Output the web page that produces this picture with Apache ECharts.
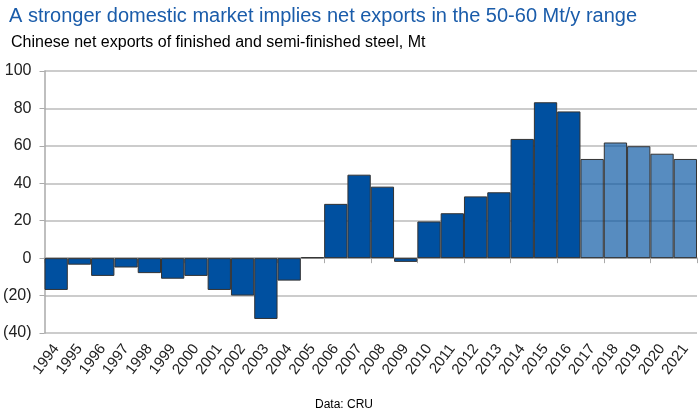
<!DOCTYPE html>
<html lang="en">
<head>
  <meta charset="UTF-8">
  <title>Chinese net exports of steel</title>
  <style>
    html, body { margin: 0; padding: 0; background: #fff; }
  </style>
</head>
<body>
<div id="main" style="width: 698px;height: 410px"></div>
<script type="text/javascript" src="https://cdn.jsdelivr.net/npm/echarts@6/dist/echarts.min.js"></script>
<script>
// years on the x axis
var years = ['1994', '1995', '1996', '1997', '1998', '1999', '2000', '2001', '2002', '2003',
  '2004', '2005', '2006', '2007', '2008', '2009', '2010', '2011', '2012', '2013',
  '2014', '2015', '2016', '2017', '2018', '2019', '2020', '2021'];
// net exports, Mt
var netExports = [-17, -3.5, -9.5, -5, -8, -11, -9.5, -17, -20, -32.5,
  -12, 0.5, 29, 44.6, 38.2, -2, 19.6, 24, 33, 35.2,
  63.7, 83.3, 78.4, 53, 61.8, 59.8, 55.8, 53];
// first forecast year
var firstForecast = '2017';
var yTicks = [-40, -20, 0, 20, 40, 60, 80, 100];

var fcIdx = years.indexOf(firstForecast);
var barData = netExports.map(function (v, i) {
  return {
    value: v,
    itemStyle: { color: i >= fcIdx ? 'rgba(0,80,160,0.66)' : '#0050a0' }
  };
});

var option = {
  animation: false,
  textStyle: { fontFamily: 'Liberation Sans, Arial, sans-serif' },
  title: [{
    text: 'A stronger domestic market implies net exports in the 50-60 Mt/y range',
    left: 4, top: 1,
    textStyle: { color: '#1a5caa', fontSize: 20, fontWeight: 'normal' }
  }, {
    text: 'Chinese net exports of finished and semi-finished steel, Mt',
    left: 6, top: 30,
    textStyle: { color: '#000', fontSize: 16, fontWeight: 'normal' }
  }, {
    text: 'Data: CRU',
    left: 310, top: 394,
    textStyle: { color: '#000', fontSize: 12, fontWeight: 'normal' }
  }],
  grid: { left: 44.5, right: 1, top: 71, bottom: 77 },
  xAxis: [{
    type: 'category',
    data: years,
    axisLine: { show: false, onZero: false },
    axisTick: { show: false },
    axisLabel: { rotate: 53, fontSize: 15, color: '#222', margin: 13, interval: 0 }
  }, {
    type: 'category',
    data: years,
    position: 'bottom',
    axisLine: { show: true, onZero: true, lineStyle: { color: '#aaa', width: 1.5 } },
    axisTick: { show: true, length: 5, lineStyle: { color: '#aaa' } },
    axisLabel: { show: false }
  }],
  yAxis: {
    type: 'value',
    min: yTicks[0],
    max: yTicks[yTicks.length - 1],
    interval: 20,
    axisLine: { show: true, lineStyle: { color: '#aaa', width: 1.5 } },
    axisTick: { show: true, length: 5, lineStyle: { color: '#aaa' } },
    splitLine: { lineStyle: { color: '#bbb', width: 1.5 } },
    axisLabel: {
      fontSize: 16, color: '#222', margin: 13,
      formatter: function (v) { return v < 0 ? '(' + (-v) + ')' : String(v); }
    }
  },
  series: [{
    type: 'bar',
    xAxisIndex: 0,
    data: barData,
    barCategoryGap: '0%',
    itemStyle: { borderColor: '#333', borderWidth: 1 }
  }]
};

var myChart = echarts.init(document.getElementById('main'));
myChart.setOption(option);
</script>
</body>
</html>
